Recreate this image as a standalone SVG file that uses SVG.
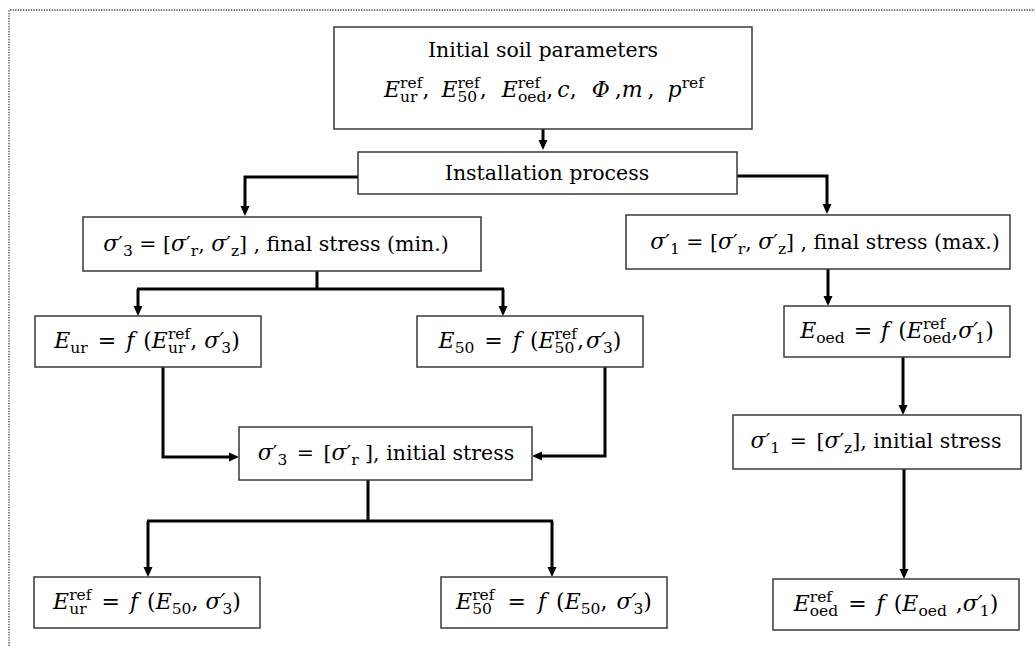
<svg xmlns="http://www.w3.org/2000/svg" width="1035" height="646" viewBox="0 0 1035 646">
<style>
.t{font-family:"DejaVu Serif","Liberation Serif",serif;font-size:20.5px;fill:#000}
.m{font-size:22px}
.i{font-style:italic}
.s{font-size:15.5px;font-style:normal}
.box{fill:#fff;stroke:#3a3a3a;stroke-width:1.5}
.c{fill:none;stroke:#000;stroke-width:3}
.a{marker-end:url(#ah)}
</style>
<defs>
<marker id="ah" viewBox="0 0 10 10" refX="4" refY="5" markerWidth="10" markerHeight="10" markerUnits="userSpaceOnUse" orient="auto">
<path d="M0,0.5 L10,5 L0,9.5 z" fill="#000"/>
</marker>
</defs>
<rect width="1035" height="646" fill="#fff"/>
<path d="M9,646 V10 H1035" fill="none" stroke="#444" stroke-width="1.3" stroke-dasharray="1.3 1.3"/>

<g id="connectors">
<path class="c a" d="M543,129 V144"/>
<path class="c a" d="M358,177 H245 V210"/>
<path class="c a" d="M737,176 H827 V208"/>
<path class="c" d="M317,271 V289 M137,289 H504"/>
<path class="c a" d="M138,289 V310"/>
<path class="c a" d="M503,289 V310"/>
<path class="c a" d="M828,269 V300"/>
<path class="c a" d="M163,367 V457 H233"/>
<path class="c a" d="M605,367 V456 H538"/>
<path class="c" d="M368,480 V521 M147,521 H553"/>
<path class="c a" d="M148,521 V571"/>
<path class="c a" d="M552,521 V571"/>
<path class="c a" d="M903,357 V409"/>
<path class="c a" d="M904,469 V573"/>
</g>

<g id="n1">
<rect class="box" x="334" y="27" width="418" height="102"/>
<text class="t" x="543" y="57" text-anchor="middle">Initial soil parameters</text>
<text class="t m" x="544" y="97" text-anchor="middle"><tspan class="i">E</tspan><tspan class="s" dy="-9">ref</tspan><tspan class="s" dx="-22.3" dy="14">ur</tspan><tspan dx="4.9" dy="-5">,</tspan><tspan dx="12" class="i">E</tspan><tspan class="s" dy="-9">ref</tspan><tspan class="s" dx="-22.3" dy="14">50</tspan><tspan dx="2.6" dy="-5">,</tspan><tspan dx="15" class="i">E</tspan><tspan class="s" dy="-9">ref</tspan><tspan class="s" dx="-22.3" dy="14">oed</tspan><tspan dy="-5">,</tspan><tspan dx="4" class="i">c</tspan>,<tspan dx="15" class="i">Φ</tspan><tspan dx="5">,</tspan><tspan class="i">m</tspan><tspan dx="5">,</tspan><tspan dx="13" class="i">p</tspan><tspan class="s" dy="-9">ref</tspan></text>
</g>

<g id="n2">
<rect class="box" x="358" y="152" width="379" height="42"/>
<text class="t" x="547" y="180" text-anchor="middle">Installation process</text>
</g>

<g id="n3">
<rect class="box" x="83" y="217" width="398" height="54"/>
<text class="t" x="276" y="251" text-anchor="middle"><tspan class="i m">σ</tspan>′<tspan class="s" dy="5">3</tspan><tspan dy="-5"> = </tspan>[<tspan class="i m">σ</tspan>′<tspan class="s" dy="5">r</tspan><tspan dy="-5">, </tspan><tspan class="i m">σ</tspan>′<tspan class="s" dy="5">z</tspan><tspan dy="-5">] , final stress (min.)</tspan></text>
</g>

<g id="n4">
<rect class="box" x="626" y="215" width="384" height="54"/>
<text class="t" x="825" y="249" text-anchor="middle"><tspan class="i m">σ</tspan>′<tspan class="s" dy="5">1</tspan><tspan dy="-5"> = </tspan>[<tspan class="i m">σ</tspan>′<tspan class="s" dy="5">r</tspan><tspan dy="-5">, </tspan><tspan class="i m">σ</tspan>′<tspan class="s" dy="5">z</tspan><tspan dy="-5">] , final stress (max.)</tspan></text>
</g>

<g id="n5">
<rect class="box" x="35" y="316" width="226" height="51"/>
<text class="t m" x="147" y="348" text-anchor="middle"><tspan class="i">E</tspan><tspan class="s" dy="5">ur</tspan><tspan dy="-5" dx="3"> = </tspan><tspan dx="3" class="i">f</tspan><tspan dx="2"> (</tspan><tspan class="i">E</tspan><tspan class="s" dy="-9">ref</tspan><tspan class="s" dx="-22.3" dy="14">ur</tspan><tspan dx="4.9" dy="-5">, </tspan><tspan class="i">σ′</tspan><tspan class="s" dx="-3" dy="5">3</tspan><tspan dy="-5">)</tspan></text>
</g>

<g id="n6">
<rect class="box" x="417" y="316" width="226" height="51"/>
<text class="t m" x="530" y="348" text-anchor="middle"><tspan class="i">E</tspan><tspan class="s" dy="5">50</tspan><tspan dy="-5" dx="3"> = </tspan><tspan dx="3" class="i">f</tspan><tspan dx="2"> (</tspan><tspan class="i">E</tspan><tspan class="s" dy="-9">ref</tspan><tspan class="s" dx="-22.3" dy="14">50</tspan><tspan dx="2.6" dy="-5">,</tspan><tspan dx="2" class="i">σ′</tspan><tspan class="s" dx="-3" dy="5">3</tspan><tspan dy="-5">)</tspan></text>
</g>

<g id="n7">
<rect class="box" x="784" y="306" width="226" height="51"/>
<text class="t m" x="897" y="338" text-anchor="middle"><tspan class="i">E</tspan><tspan class="s" dy="5">oed</tspan><tspan dy="-5" dx="2"> = </tspan><tspan dx="2" class="i">f</tspan><tspan dx="2"> (</tspan><tspan class="i">E</tspan><tspan class="s" dy="-9">ref</tspan><tspan class="s" dx="-22.3" dy="14">oed</tspan><tspan dy="-5">,</tspan><tspan class="i">σ′</tspan><tspan class="s" dx="-3" dy="5">1</tspan><tspan dy="-5">)</tspan></text>
</g>

<g id="n8">
<rect class="box" x="239" y="427" width="293" height="53"/>
<text class="t" x="386" y="460" text-anchor="middle"><tspan class="i m">σ</tspan>′<tspan class="s" dy="5">3</tspan><tspan dy="-5" dx="3"> = </tspan><tspan dx="3">[</tspan><tspan class="i m">σ</tspan>′<tspan class="s" dy="5">r</tspan><tspan dy="-5"> ], initial stress</tspan></text>
</g>

<g id="n9">
<rect class="box" x="733" y="415" width="288" height="54"/>
<text class="t" x="876" y="448" text-anchor="middle"><tspan class="i m">σ</tspan>′<tspan class="s" dy="5">1</tspan><tspan dy="-5" dx="3"> = </tspan><tspan dx="3">[</tspan><tspan class="i m">σ</tspan>′<tspan class="s" dy="5">z</tspan><tspan dy="-5">], initial stress</tspan></text>
</g>

<g id="n10">
<rect class="box" x="34" y="577" width="226" height="51"/>
<text class="t m" x="147" y="609" text-anchor="middle"><tspan class="i">E</tspan><tspan class="s" dy="-9">ref</tspan><tspan class="s" dx="-22.3" dy="14">ur</tspan><tspan dx="7.9" dy="-5"> = </tspan><tspan dx="3" class="i">f</tspan><tspan dx="2"> (</tspan><tspan class="i">E</tspan><tspan class="s" dy="5">50</tspan><tspan dy="-5">, </tspan><tspan class="i">σ′</tspan><tspan class="s" dx="-3" dy="5">3</tspan><tspan dy="-5">)</tspan></text>
</g>

<g id="n11">
<rect class="box" x="441" y="577" width="226" height="51"/>
<text class="t m" x="554" y="609" text-anchor="middle"><tspan class="i">E</tspan><tspan class="s" dy="-9">ref</tspan><tspan class="s" dx="-22.3" dy="14">50</tspan><tspan dx="8.6" dy="-5"> = </tspan><tspan dx="5" class="i">f</tspan><tspan dx="3"> (</tspan><tspan class="i">E</tspan><tspan class="s" dy="5">50</tspan><tspan dy="-5">, </tspan><tspan dx="2" class="i">σ′</tspan><tspan class="s" dx="-3" dy="5">3</tspan><tspan dy="-5">)</tspan></text>
</g>

<g id="n12">
<rect class="box" x="773" y="579" width="246" height="51"/>
<text class="t m" x="896" y="611" text-anchor="middle"><tspan class="i">E</tspan><tspan class="s" dy="-9">ref</tspan><tspan class="s" dx="-22.3" dy="14">oed</tspan><tspan dx="3" dy="-5"> = </tspan><tspan dx="3" class="i">f</tspan><tspan dx="2"> (</tspan><tspan class="i">E</tspan><tspan class="s" dy="5">oed</tspan><tspan dy="-5" dx="2"> ,</tspan><tspan class="i">σ′</tspan><tspan class="s" dx="-3" dy="5">1</tspan><tspan dy="-5">)</tspan></text>
</g>
</svg>
